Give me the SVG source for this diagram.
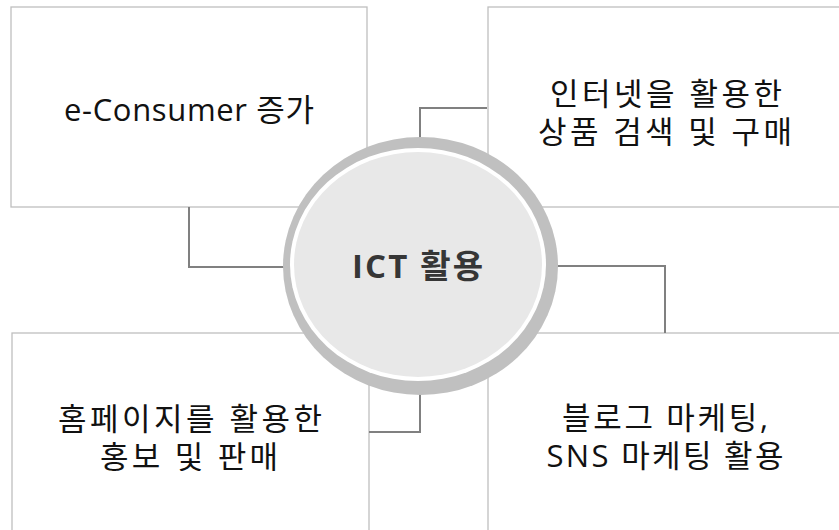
<svg xmlns="http://www.w3.org/2000/svg" width="839" height="530" viewBox="0 0 839 530">
<style>
.box{fill:#ffffff;stroke:#bfbfbf;stroke-width:1.3}
.lbl{font-family:"Open Sans","Noto Sans CJK KR",sans-serif;font-size:31px;fill:#111111;text-anchor:middle}
.conn{fill:none;stroke:#808080;stroke-width:2}
.hub{font-family:"Open Sans","Noto Sans CJK KR",sans-serif;font-size:33px;font-weight:bold;fill:#363636;text-anchor:middle}
</style>
<rect width="839" height="530" fill="#ffffff"/>
<g id="node-econsumer">
<rect class="box" x="11" y="7" width="356" height="200"/>
<text class="lbl" x="189" y="121" textLength="250" lengthAdjust="spacing">e-Consumer 증가</text>
</g>
<g id="node-internet">
<rect class="box" x="488" y="7" width="360" height="200"/>
<text class="lbl" x="666" y="105" textLength="232" lengthAdjust="spacing">인터넷을 활용한</text>
<text class="lbl" x="665" y="143" textLength="254" lengthAdjust="spacing">상품 검색 및 구매</text>
</g>
<g id="node-homepage">
<rect class="box" x="12" y="333" width="357" height="210"/>
<text class="lbl" x="190" y="430" textLength="264" lengthAdjust="spacing">홈페이지를 활용한</text>
<text class="lbl" x="189" y="468" textLength="178" lengthAdjust="spacing">홍보 및 판매</text>
</g>
<g id="node-sns">
<rect class="box" x="488" y="333" width="360" height="210"/>
<text class="lbl" x="665" y="429" textLength="206" lengthAdjust="spacing">블로그 마케팅,</text>
<text class="lbl" x="665" y="467" textLength="237" lengthAdjust="spacing">SNS 마케팅 활용</text>
</g>
<g id="connectors">
<polyline class="conn" points="189,207 189,267 300,267"/>
<polyline class="conn" points="487,108 420,108 420,160"/>
<polyline class="conn" points="369,432 420,432 420,380"/>
<polyline class="conn" points="540,266 665,266 665,333"/>
</g>
<g id="node-ict">
<ellipse cx="420.5" cy="266" rx="137.5" ry="129" fill="#c0c0c0"/>
<ellipse cx="418" cy="264.5" rx="128" ry="116.5" fill="#ffffff"/>
<ellipse cx="418" cy="264.5" rx="124" ry="112.5" fill="#e8e8e8"/>
<text class="hub" x="417.5" y="278" textLength="131" lengthAdjust="spacing">ICT 활용</text>
</g>
</svg>
